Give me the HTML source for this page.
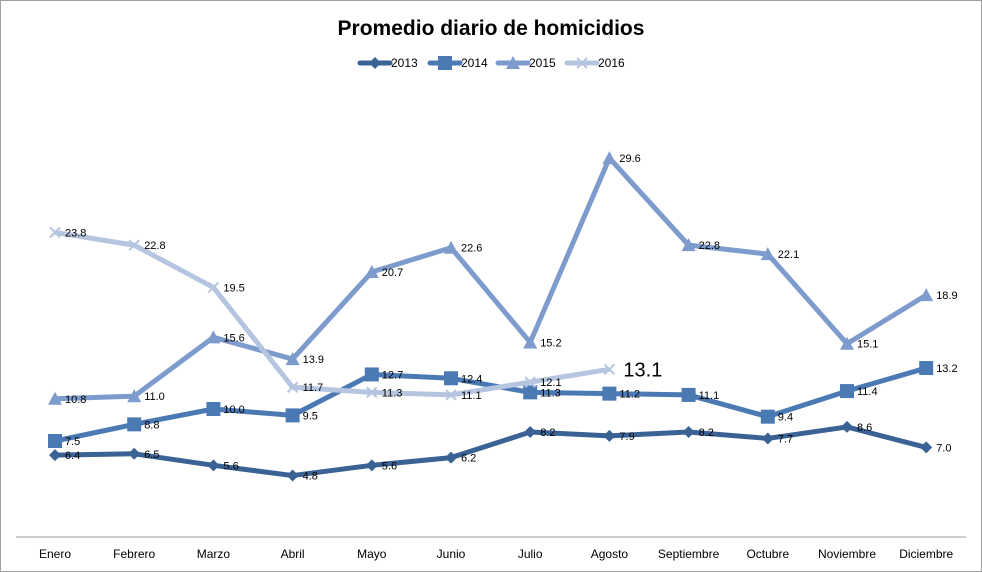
<!DOCTYPE html>
<html><head><meta charset="utf-8"><style>
body{margin:0;background:#fff}
svg{display:block;font-family:"Liberation Sans",Arial,sans-serif}
</style></head><body>
<svg id="c" width="982" height="572" viewBox="0 0 982 572">
<rect x="0.5" y="0.5" width="981" height="571" fill="#fff" stroke="#a0a0a0"/>
<text x="491" y="35" text-anchor="middle" font-size="21" font-weight="bold" fill="#000">Promedio diario de homicidios</text>
<line x1="16" y1="537" x2="966" y2="537" stroke="#999"/>
<g id="legend"></g>
<g id="plot"></g>
</svg>
<script>
const months=["Enero","Febrero","Marzo","Abril","Mayo","Junio","Julio","Agosto","Septiembre","Octubre","Noviembre","Diciembre"];
const seriesNames=["2013","2014","2015","2016"];
const v2013=[6.4,6.5,5.6,4.8,5.6,6.2,8.2,7.9,8.2,7.7,8.6,7.0];
const v2014=[7.5,8.8,10.0,9.5,12.7,12.4,11.3,11.2,11.1,9.4,11.4,13.2];
const v2015=[10.8,11.0,15.6,13.9,20.7,22.6,15.2,29.6,22.8,22.1,15.1,18.9];
const v2016=[23.8,22.8,19.5,11.7,11.3,11.1,12.1,13.1];
const NS="http://www.w3.org/2000/svg";
const colors=["#3b6294","#4a79b4","#7d9bcc","#b5c5e0"];
const markers=["diamond","square","triangle","x"];
const data=[v2013,v2014,v2015,v2016];
function xS(i){return 55+i*79.2;}
function yS(v){return 537-v*12.8;}
const plot=document.getElementById('plot');
const svg=document.getElementById('c');
function mk(tag,attrs,parent){const e=document.createElementNS(NS,tag);for(const k in attrs)e.setAttribute(k,attrs[k]);parent.appendChild(e);return e;}
function marker(type,x,y,col,parent){
 let e;
 if(type==="diamond")e=mk('polygon',{points:`${x},${y-6} ${x+6},${y} ${x},${y+6} ${x-6},${y}`,fill:col},parent);
 else if(type==="square")e=mk('rect',{x:x-7,y:y-7,width:14,height:14,fill:col},parent);
 else if(type==="triangle")e=mk('polygon',{points:`${x},${y-7} ${x+7},${y+6} ${x-7},${y+6}`,fill:col},parent);
 else {e=mk('path',{d:`M${x-5},${y-5}L${x+5},${y+5}M${x+5},${y-5}L${x-5},${y+5}`,stroke:col,'stroke-width':2},parent);}
 return e;
}
months.forEach((m,i)=>{
 const t=mk('text',{x:xS(i),y:558,'text-anchor':'middle','font-size':12,fill:'#000'},svg);
 t.textContent=m;
 
 
});
data.forEach((vals,s)=>{
 const g=mk('g',{},plot);
 
 
 const pts=vals.map((v,i)=>xS(i)+','+yS(v)).join(' ');
 const pl=mk('polyline',{points:pts,fill:'none',stroke:colors[s],'stroke-width':5,'stroke-linejoin':'round'},g);
 
 
 vals.forEach((v,i)=>{
  const mm=marker(markers[s],xS(i),yS(v),colors[s],g);
  
  
  const big=(s===3&&i===vals.length-1);
  const t=mk('text',{x:xS(i)+(big?14:10),y:yS(v)+(big?7:4),'font-size':big?20:11,fill:'#000'},g);
  t.textContent=v.toFixed(1);
  
  
 });
});
const lg=document.getElementById('legend');
const lx=[360,430,498,567];
seriesNames.forEach((n,s)=>{
 const g=mk('g',{},lg);
 
 
 mk('line',{x1:lx[s],y1:63,x2:lx[s]+30,y2:63,stroke:colors[s],'stroke-width':5,'stroke-linecap':'round'},g);
 marker(markers[s],lx[s]+15,63,colors[s],g);
 const t=mk('text',{x:lx[s]+31,y:67,'font-size':12,fill:'#000'},g);
 t.textContent=n;
});
</script>
</body></html>
